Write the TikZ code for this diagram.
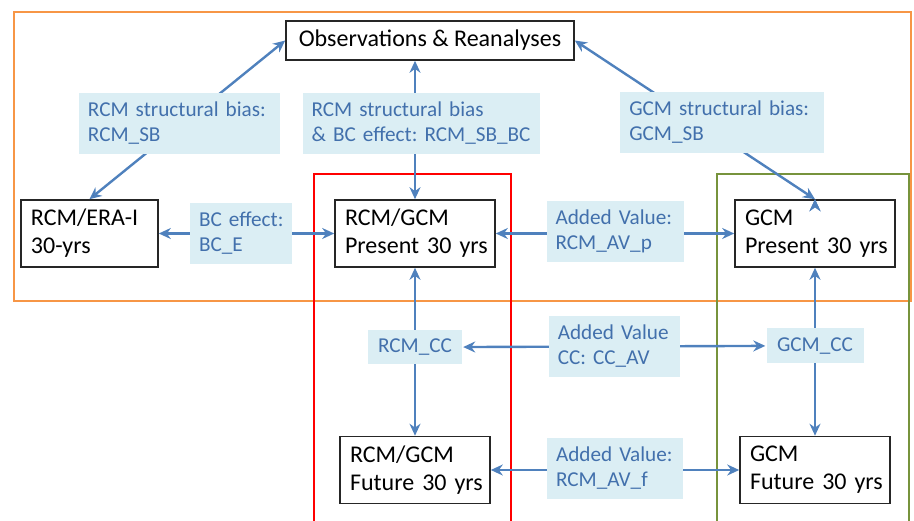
\documentclass[tikz,border=0pt]{standalone}
\usepackage{fontspec}
\setmainfont{Carlito}
\usetikzlibrary{positioning,arrows.meta}
\definecolor{linkblue}{RGB}{79,129,189}
\definecolor{tagtext}{RGB}{66,112,172}
\definecolor{tagfill}{RGB}{219,238,244}
\definecolor{zonegreen}{RGB}{119,147,60}
\definecolor{zoneorange}{RGB}{247,150,70}

\begin{document}
\begin{tikzpicture}[on grid,
  model/.style={draw=black!85, line width=0.8pt, fill=white, align=left, inner xsep=5pt, inner ysep=3pt, minimum height=33.5pt, font=\fontsize{12}{14}\selectfont},
  tag/.style={fill=tagfill, text=tagtext, align=left, inner xsep=4.5pt, inner ysep=3pt, minimum height=30.5pt, font=\fontsize{10.6}{12.5}\selectfont, execute at begin node={\hyphenpenalty=10000\relax}},
  link/.style={draw=linkblue, line width=1.2pt, {Stealth[length=6pt,width=5.5pt]}-{Stealth[length=6pt,width=5.5pt]}},
  zone/.style={line width=1pt}]
	\useasboundingbox (0,0) rectangle (457pt,260pt);

	% coloured frames
	\draw[zone, zoneorange] (7pt,109.5pt) rectangle (455.5pt,254pt);
	\draw[zone, red] (157pt,-2pt) rectangle (255.5pt,173pt);
	\draw[zone, zonegreen] (358.5pt,-2pt) rectangle (454.5pt,173pt);

	\node[model, text width=70pt] (rgp) at (207.5pt,143.25pt) {RCM/GCM\\Present~30~yrs};
	\node[model, text width=58.5pt] (eraI) [left=162.75pt of rgp] {RCM/ERA-I\\30-yrs};
	\node[model, text width=70pt] (gp) [right=200pt of rgp] {GCM\\Present~30~yrs};
	\node[model, text width=65pt] (rgf) [below=118.25pt of rgp] {RCM/GCM\\Future~30~yrs};
	\node[model, text width=65pt] (gf) [below=118.25pt of gp] {GCM\\Future~30~yrs};
	\node[model, align=center, minimum width=144pt, minimum height=19.5pt, inner ysep=2pt] (obs) [above=96.5pt of rgp, xshift=7.5pt] {Observations \& Reanalyses};

	\path[link]
	(eraI.north) edge node[tag, pos=.48, xshift=-2pt, text width=91.5pt] {RCM~structural~bias:\\RCM\_SB} (obs.west)
	(rgp) edge node[tag, pos=.55, xshift=3pt, text width=109.5pt] {RCM~structural~bias\\\&~BC~effect:~RCM\_SB\_BC} (rgp.north |- obs.south)
	(gp.north) edge node[tag, pos=.486, xshift=12pt, text width=93pt] {GCM~structural~bias:\\GCM\_SB} (obs.east)
	(eraI) edge node[tag, pos=.469, text width=42pt] {BC~effect:\\BC\_E} (rgp)
	(rgp) edge node[tag, midway, yshift=1pt, text width=59.5pt] {Added~Value:\\RCM\_AV\_p} (gp)
	(rgp) edge node[tag, pos=.473, align=center, minimum width=47pt, minimum height=17pt] (ccR) {RCM\_CC} (rgf)
	(gp) edge node[tag, pos=.464, align=center, minimum width=48.5pt, minimum height=17.5pt] (ccG) {GCM\_CC} (gf)
	(rgf) edge node[tag, midway, yshift=0.75pt, text width=59pt] {Added~Value:\\RCM\_AV\_f} (gf);

	\path[link]
	(ccR) edge node[tag, midway, text width=56.5pt] {Added~Value\\CC:~CC\_AV} (ccG);
\end{tikzpicture}
\end{document}
